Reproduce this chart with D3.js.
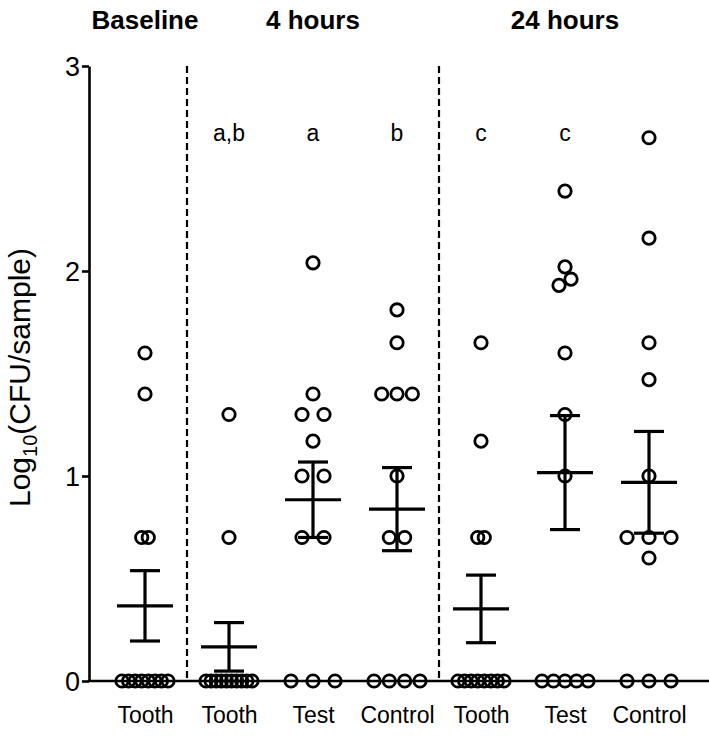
<!DOCTYPE html>
<html>
<head>
<meta charset="utf-8">
<script src="https://cdn.jsdelivr.net/npm/d3@7"></script>
<style>
  body { margin: 0; background: #fff; }
  svg text { font-family: "Liberation Sans", Arial, sans-serif; fill: #000; }
</style>
</head>
<body>
<div id="chart"></div>
<script>
// Log10 CFU per sample, one array per column
const baselineTooth = [1.6, 1.4, 0.7, 0.7, 0, 0, 0, 0, 0, 0, 0, 0];
const h4Tooth = [1.3, 0.7, 0, 0, 0, 0, 0, 0, 0, 0, 0, 0];
const h4Test = [2.04, 1.4, 1.3, 1.3, 1.17, 1.0, 1.0, 0.7, 0.7, 0, 0, 0];
const h4Control = [1.81, 1.65, 1.4, 1.4, 1.4, 1.0, 0.7, 0.7, 0, 0, 0, 0];
const h24Tooth = [1.65, 1.17, 0.7, 0.7, 0, 0, 0, 0, 0, 0, 0, 0];
const h24Test = [2.39, 2.02, 1.96, 1.93, 1.6, 1.3, 1.0, 0, 0, 0, 0, 0];
const h24Control = [2.65, 2.16, 1.65, 1.47, 1.0, 0.7, 0.7, 0.7, 0.6, 0, 0, 0];

const columnIds = ["b-tooth", "4-tooth", "4-test", "4-control", "24-tooth", "24-test", "24-control"];
const columnLabels = ["Tooth", "Tooth", "Test", "Control", "Tooth", "Test", "Control"];
const columnValues = [baselineTooth, h4Tooth, h4Test, h4Control, h24Tooth, h24Test, h24Control];
const sigLetters = ["", "a,b", "a", "b", "c", "c", ""];

const periods = ["Baseline", "4 hours", "24 hours"];
const periodCenter = ["b-tooth", "4-test", "24-test"];
const separators = [0.5, 3.5]; // between column indices

const yTicks = [0, 1, 2, 3];

// --- layout ---
const W = 709, H = 746;
const axisX = 89, plotTop = 66, plotBottom = 681;
const r = 6.2;

const svg = d3.select("#chart").append("svg")
    .attr("width", W)
    .attr("height", H);

const y = d3.scaleLinear().domain([0, 3]).range([plotBottom, plotTop]);
const x = d3.scalePoint().domain(columnIds).range([145, 649]);
const step = x.step();

// y axis
const yAxis = svg.append("g")
    .attr("transform", `translate(${axisX},0)`)
    .call(d3.axisLeft(y).tickValues(yTicks).tickFormat(d3.format("d")).tickSize(7).tickSizeOuter(0).tickPadding(2));
yAxis.select(".domain").attr("stroke-width", 2.6);
yAxis.selectAll(".tick line").attr("stroke-width", 2.6);
yAxis.selectAll(".tick text").style("font-size", "27px").attr("dy", "0.36em");

// x axis line
svg.append("line")
    .attr("x1", axisX - 1.3).attr("x2", W)
    .attr("y1", y(0)).attr("y2", y(0))
    .attr("stroke", "#000").attr("stroke-width", 2.6);

// category labels
svg.append("g")
    .attr("transform", `translate(0,${y(0)})`)
    .call(d3.axisBottom(x).tickSize(0).tickPadding(26).tickFormat((d, i) => columnLabels[i]))
    .call(g => g.select(".domain").remove())
    .selectAll("text").style("font-size", "23px");

// dashed separators
separators.forEach(s => {
    const sx = x(columnIds[Math.floor(s)]) + step / 2;
    svg.append("line")
        .attr("x1", sx).attr("x2", sx)
        .attr("y1", y(3)).attr("y2", y(0))
        .attr("stroke", "#000").attr("stroke-width", 2.2)
        .attr("stroke-dasharray", "7,4");
});

// period headers
periods.forEach((p, i) => {
    svg.append("text")
        .attr("x", x(periodCenter[i]))
        .attr("y", 29)
        .attr("text-anchor", "middle")
        .style("font-size", "26px")
        .style("font-weight", "bold")
        .text(p);
});

// significance letters
sigLetters.forEach((l, i) => {
    if (!l) return;
    svg.append("text")
        .attr("x", x(columnIds[i]))
        .attr("y", 141)
        .attr("text-anchor", "middle")
        .style("font-size", "23px")
        .text(l);
});

// y label
svg.append("text")
    .attr("transform", `translate(30,${(plotTop + plotBottom) / 2 + 4}) rotate(-90)`)
    .attr("text-anchor", "middle")
    .style("font-size", "30px")
    .call(t => {
        t.append("tspan").text("Log");
        t.append("tspan").attr("dy", 7).style("font-size", "20px").text("10");
        t.append("tspan").attr("dy", -7).text("(CFU/sample)");
    });

// place points: ties spread symmetrically, near-overlaps nudged sideways
function placePoints(values, cx) {
    const groups = d3.groups(values, v => v).sort((a, b) => b[0] - a[0]);
    const maxTies = d3.max(groups, g => g[1].length);
    const gap = maxTies > 1 ? Math.min(22, 46 / (maxTies - 1)) : 0;
    const placed = [];
    groups.forEach(([v, arr]) => {
        const k = arr.length;
        const base = arr.map((_, i) => (i - (k - 1) / 2) * gap);
        const py = y(v);
        let shift = 0;
        for (let n = 0; n < 20; n++) {
            shift = n === 0 ? 0 : (n % 2 ? 1 : -1) * Math.ceil(n / 2) * 6;
            const hit = base.some(b => placed.some(p =>
                Math.hypot(cx + b + shift - p.x, py - p.y) < 2 * r));
            if (!hit) break;
        }
        base.forEach(b => placed.push({ x: cx + b + shift, y: py, v }));
    });
    return placed;
}

columnIds.forEach((id, i) => {
    const vals = columnValues[i];
    const cx = x(id);
    const pts = placePoints(vals, cx);

    svg.append("g").selectAll("circle")
        .data(pts)
        .join("circle")
        .attr("cx", d => d.x)
        .attr("cy", d => d.y)
        .attr("r", r)
        .attr("fill", "none")
        .attr("stroke", "#000")
        .attr("stroke-width", 2.8);

    // mean +/- SEM
    const m = d3.mean(vals);
    const sem = d3.deviation(vals) / Math.sqrt(vals.length);
    const g = svg.append("g").attr("stroke", "#000").attr("stroke-width", 3.2);
    g.append("line").attr("x1", cx).attr("x2", cx).attr("y1", y(m + sem)).attr("y2", y(m - sem));
    g.append("line").attr("x1", cx - 28).attr("x2", cx + 28).attr("y1", y(m)).attr("y2", y(m));
    g.append("line").attr("x1", cx - 15).attr("x2", cx + 15).attr("y1", y(m + sem)).attr("y2", y(m + sem));
    g.append("line").attr("x1", cx - 15).attr("x2", cx + 15).attr("y1", y(m - sem)).attr("y2", y(m - sem));
});
</script>
</body>
</html>
